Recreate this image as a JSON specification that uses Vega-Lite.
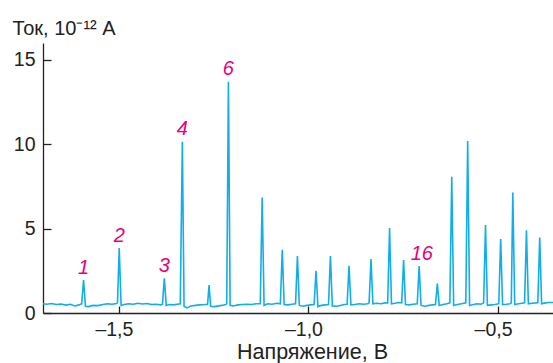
{
  "$schema": "https://vega.github.io/schema/vega-lite/v6.json",
  "width": 510,
  "height": 270,
  "padding": {"left": 43, "top": 43, "right": 0, "bottom": 50},
  "autosize": {"type": "none"},
  "background": "white",
  "config": {
    "view": {"stroke": null},
    "font": "Liberation Sans",
    "axis": {
      "grid": false,
      "domainColor": "#222222",
      "domainWidth": 1.3,
      "tickColor": "#222222",
      "tickWidth": 1.3,
      "labelColor": "#222222",
      "labelFontSize": 19.5,
      "labelFont": "Liberation Sans",
      "titleFont": "Liberation Sans",
      "titleFontSize": 20,
      "titleFontWeight": "normal",
      "titleColor": "#222222"
    }
  },
  "datasets": {
    "curve": [
      {"v": -1.700, "i": 0.55}, {"v": -1.690, "i": 0.52}, {"v": -1.678, "i": 0.56}, {"v": -1.665, "i": 0.50},
      {"v": -1.652, "i": 0.53}, {"v": -1.640, "i": 0.47}, {"v": -1.628, "i": 0.52}, {"v": -1.616, "i": 0.42},
      {"v": -1.605, "i": 0.48}, {"v": -1.598, "i": 0.55}, {"v": -1.593, "i": 1.95}, {"v": -1.588, "i": 0.40},
      {"v": -1.580, "i": 0.38}, {"v": -1.568, "i": 0.45}, {"v": -1.555, "i": 0.44}, {"v": -1.542, "i": 0.50},
      {"v": -1.530, "i": 0.55}, {"v": -1.518, "i": 0.52}, {"v": -1.506, "i": 0.56}, {"v": -1.5035, "i": 0.60},
      {"v": -1.499, "i": 3.85}, {"v": -1.494, "i": 0.45}, {"v": -1.486, "i": 0.50}, {"v": -1.474, "i": 0.55},
      {"v": -1.462, "i": 0.52}, {"v": -1.450, "i": 0.58}, {"v": -1.438, "i": 0.53}, {"v": -1.426, "i": 0.56},
      {"v": -1.414, "i": 0.50}, {"v": -1.402, "i": 0.52}, {"v": -1.390, "i": 0.48}, {"v": -1.385, "i": 0.52},
      {"v": -1.380, "i": 2.05}, {"v": -1.375, "i": 0.45}, {"v": -1.366, "i": 0.50}, {"v": -1.356, "i": 0.48},
      {"v": -1.346, "i": 0.52}, {"v": -1.338, "i": 0.55}, {"v": -1.3325, "i": 10.15}, {"v": -1.328, "i": 0.40},
      {"v": -1.320, "i": 0.30}, {"v": -1.310, "i": 0.42}, {"v": -1.298, "i": 0.45}, {"v": -1.286, "i": 0.48},
      {"v": -1.274, "i": 0.50}, {"v": -1.266, "i": 0.52}, {"v": -1.262, "i": 1.65}, {"v": -1.258, "i": 0.40},
      {"v": -1.248, "i": 0.38}, {"v": -1.238, "i": 0.42}, {"v": -1.228, "i": 0.45}, {"v": -1.218, "i": 0.50},
      {"v": -1.2155, "i": 0.55}, {"v": -1.211, "i": 13.7}, {"v": -1.2065, "i": 0.45}, {"v": -1.198, "i": 0.42},
      {"v": -1.186, "i": 0.48}, {"v": -1.174, "i": 0.50}, {"v": -1.162, "i": 0.52}, {"v": -1.150, "i": 0.50},
      {"v": -1.138, "i": 0.55}, {"v": -1.127, "i": 0.55}, {"v": -1.122, "i": 6.85}, {"v": -1.117, "i": 0.45},
      {"v": -1.108, "i": 0.55}, {"v": -1.096, "i": 0.52}, {"v": -1.084, "i": 0.58}, {"v": -1.074, "i": 0.55},
      {"v": -1.069, "i": 3.75}, {"v": -1.064, "i": 0.50}, {"v": -1.054, "i": 0.48}, {"v": -1.044, "i": 0.52},
      {"v": -1.034, "i": 0.55}, {"v": -1.029, "i": 3.37}, {"v": -1.024, "i": 0.45}, {"v": -1.014, "i": 0.40},
      {"v": -1.004, "i": 0.45}, {"v": -0.994, "i": 0.48}, {"v": -0.985, "i": 0.50}, {"v": -0.980, "i": 2.5},
      {"v": -0.975, "i": 0.38}, {"v": -0.966, "i": 0.45}, {"v": -0.956, "i": 0.48}, {"v": -0.947, "i": 0.50},
      {"v": -0.942, "i": 3.37}, {"v": -0.937, "i": 0.42}, {"v": -0.926, "i": 0.40}, {"v": -0.916, "i": 0.45},
      {"v": -0.906, "i": 0.50}, {"v": -0.898, "i": 0.52}, {"v": -0.893, "i": 2.8}, {"v": -0.888, "i": 0.48},
      {"v": -0.878, "i": 0.50}, {"v": -0.866, "i": 0.55}, {"v": -0.854, "i": 0.52}, {"v": -0.844, "i": 0.55},
      {"v": -0.840, "i": 0.60}, {"v": -0.835, "i": 3.2}, {"v": -0.830, "i": 0.55}, {"v": -0.820, "i": 0.58},
      {"v": -0.808, "i": 0.55}, {"v": -0.798, "i": 0.60}, {"v": -0.791, "i": 0.60}, {"v": -0.786, "i": 5.04},
      {"v": -0.781, "i": 0.55}, {"v": -0.772, "i": 0.58}, {"v": -0.762, "i": 0.62}, {"v": -0.754, "i": 0.60},
      {"v": -0.749, "i": 3.14}, {"v": -0.744, "i": 0.50}, {"v": -0.734, "i": 0.48}, {"v": -0.724, "i": 0.52},
      {"v": -0.713, "i": 0.55}, {"v": -0.708, "i": 2.78}, {"v": -0.703, "i": 0.45}, {"v": -0.693, "i": 0.40},
      {"v": -0.682, "i": 0.45}, {"v": -0.672, "i": 0.48}, {"v": -0.665, "i": 0.50}, {"v": -0.660, "i": 1.74},
      {"v": -0.655, "i": 0.45}, {"v": -0.645, "i": 0.50}, {"v": -0.635, "i": 0.55}, {"v": -0.627, "i": 0.60},
      {"v": -0.622, "i": 8.07}, {"v": -0.617, "i": 0.45}, {"v": -0.607, "i": 0.50}, {"v": -0.596, "i": 0.55},
      {"v": -0.585, "i": 0.60}, {"v": -0.580, "i": 10.19}, {"v": -0.575, "i": 0.45}, {"v": -0.565, "i": 0.50},
      {"v": -0.555, "i": 0.55}, {"v": -0.545, "i": 0.52}, {"v": -0.538, "i": 0.60}, {"v": -0.533, "i": 5.22},
      {"v": -0.528, "i": 0.45}, {"v": -0.518, "i": 0.48}, {"v": -0.508, "i": 0.50}, {"v": -0.498, "i": 0.55},
      {"v": -0.493, "i": 4.39}, {"v": -0.488, "i": 0.50}, {"v": -0.478, "i": 0.52}, {"v": -0.468, "i": 0.55},
      {"v": -0.465, "i": 0.60}, {"v": -0.461, "i": 7.14}, {"v": -0.456, "i": 0.50}, {"v": -0.446, "i": 0.55},
      {"v": -0.436, "i": 0.58}, {"v": -0.430, "i": 0.60}, {"v": -0.425, "i": 4.9}, {"v": -0.420, "i": 0.55},
      {"v": -0.410, "i": 0.58}, {"v": -0.400, "i": 0.60}, {"v": -0.395, "i": 0.62}, {"v": -0.390, "i": 4.48},
      {"v": -0.385, "i": 0.55}, {"v": -0.375, "i": 0.60}, {"v": -0.365, "i": 0.62}, {"v": -0.355, "i": 0.62}
    ],
    "labels": [
      {"v": -1.593, "i": 1.95, "label": "1"},
      {"v": -1.499, "i": 3.85, "label": "2"},
      {"v": -1.380, "i": 2.05, "label": "3"},
      {"v": -1.3325, "i": 10.15, "label": "4"},
      {"v": -1.211, "i": 13.7, "label": "6"},
      {"v": -0.701, "i": 2.78, "label": "16"}
    ]
  },
  "layer": [
    {
      "data": {"name": "curve"},
      "mark": {"type": "line", "color": "#12aee9", "strokeWidth": 1.6, "clip": true},
      "encoding": {
        "x": {
          "field": "v", "type": "quantitative",
          "scale": {"domain": [-1.7, -0.355], "nice": false, "zero": false},
          "axis": {
            "values": [-1.5, -1.0, -0.5],
            "labelExpr": "'–' + replace(format(abs(datum.value), '.1f'), '.', ',')",
            "labelAlign": "right",
            "labelOffset": 14,
            "tickSize": -7,
            "labelPadding": 14,
            "title": "Напряжение, В",
            "titleFontSize": 21.5,
            "titleX": 269,
            "titleY": 45,
            "titleBaseline": "alphabetic",
            "titleAnchor": "middle"
          }
        },
        "y": {
          "field": "i", "type": "quantitative",
          "scale": {"domain": [0, 16], "nice": false},
          "axis": {
            "values": [0, 5, 10, 15],
            "tickSize": -8,
            "labelPadding": 16,
            "title": "Ток, 10⁻¹² A",
            "titleAngle": 0,
            "titleAlign": "left",
            "titleAnchor": "start",
            "titleX": -31,
            "titleY": -9,
            "titleBaseline": "alphabetic"
          }
        }
      }
    },
    {
      "data": {"name": "labels"},
      "mark": {"type": "text", "fontStyle": "italic", "fontSize": 20, "color": "#e6007e", "dy": -6.5, "baseline": "alphabetic", "font": "Liberation Sans"},
      "encoding": {
        "x": {"field": "v", "type": "quantitative"},
        "y": {"field": "i", "type": "quantitative"},
        "text": {"field": "label"}
      }
    }
  ]
}
